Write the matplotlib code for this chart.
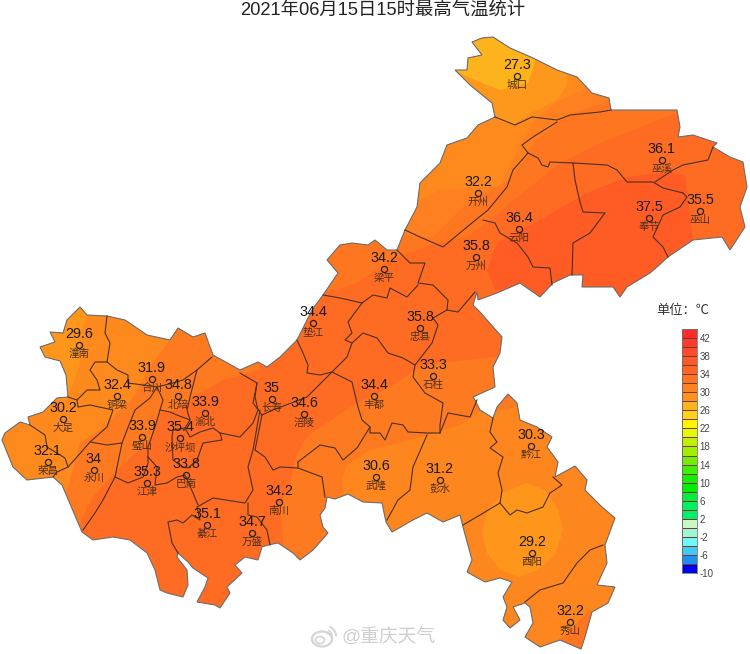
# -*- coding: utf-8 -*-
import matplotlib
matplotlib.use('Agg')
import matplotlib.pyplot as plt
from matplotlib.patches import Polygon, Ellipse, Arc
from matplotlib.colors import ListedColormap, BoundaryNorm
import numpy as np

plt.rcParams['font.family'] = ['Liberation Sans', 'Noto Sans CJK SC']
plt.rcParams['axes.unicode_minus'] = False

# stations: name, max temperature, map position (image grid)
names = ['城口','巫溪','开州','巫山','奉节','云阳','万州','梁平','垫江','忠县','石柱','丰都',
         '长寿','涪陵','南川','武隆','彭水','黔江','酉阳','秀山','潼南','合川','铜梁','北碚',
         '渝北','大足','璧山','沙坪坝','荣昌','永川','江津','巴南','綦江','万盛']
temps = ['27.3','36.1','32.2','35.5','37.5','36.4','35.8','34.2','34.4','35.8','33.3','34.4',
         '35','34.6','34.2','30.6','31.2','30.3','29.2','32.2','29.6','31.9','32.4','34.8',
         '33.9','30.2','33.9','35.4','32.1','34','35.3','33.8','35.1','34.7']
st_x = [517,662,478,700,649,519,476,384,313,420,433,374,272,304,279,376,440,531,532,570,
        79,152,117,178,205,63,142,180,48,94,147,186,207,252]
st_y = [76,160,193,211,218,229,257,269,323,328,376,396,399,414,502,477,480,446,553,622,
        345,379,396,396,413,419,437,438,462,470,483,475,525,533]

# colour scale
cb_levels = list(range(-10, 46, 2))
cb_ticks = list(range(-10, 46, 4))
cb_colors = ['#0000F0','#1E90F0','#40C8F8','#70F8F8','#98F8D8','#C8F8C8','#00F070','#00F060',
             '#00F040','#00F000','#10F000','#40F000','#70F000','#A0F000','#C0F000','#E4FA00',
             '#FEF400','#FED21A','#FEB41C','#FE921C','#FE821E','#FE7420','#FE6624','#FE5A28',
             '#FE4A2A','#FE3A2E','#FE2B2B']

# municipality outline
outline = [(472,42),(482,38),(493,37),(510,48),(533,58),(557,70),(577,77),(592,93),(609,98),(611,110),
    (677,110),(680,127),(678,137),(693,135),(717,143),(713,147),(730,157),(743,162),(747,187),(740,207),
    (745,227),(730,250),(722,237),(693,240),(668,257),(657,267),(650,273),(627,287),(620,297),(613,287),
    (582,287),(583,275),(570,275),(553,283),(540,297),(520,283),(497,293),(478,300),(477,292),(473,305),
    (480,312),(502,337),(500,353),(493,367),(495,387),(473,397),(475,400),(480,410),(493,418),(497,407),
    (508,394),(517,403),(520,420),(537,427),(552,437),(547,447),(558,462),(555,477),(575,466),(587,480),
    (585,490),(602,507),(615,518),(605,545),(607,563),(597,585),(615,587),(608,603),(592,612),(585,637),
    (581,649),(560,640),(540,647),(525,637),(533,623),(530,607),(525,603),(513,607),(520,620),(510,628),
    (503,620),(507,607),(503,597),(512,582),(500,578),(485,582),(467,572),(472,560),(463,527),(460,515),
    (443,522),(427,513),(413,520),(392,532),(386,522),(382,503),(363,502),(348,494),(335,499),(327,497),
    (325,508),(320,515),(323,527),(328,533),(313,550),(300,560),(293,553),(278,543),(268,545),(262,547),
    (258,560),(245,557),(235,565),(242,573),(227,587),(230,593),(220,608),(215,605),(197,602),(205,587),
    (208,578),(193,568),(188,562),(178,553),(177,557),(187,570),(188,585),(183,597),(167,593),(160,590),
    (155,570),(147,553),(130,540),(113,537),(93,540),(82,532),(62,485),(53,477),(27,480),(13,467),
    (2,440),(5,433),(20,422),(30,425),(28,417),(43,412),(57,398),(68,397),(66,375),(60,361),(45,357),(40,347),
    (55,342),(50,332),(63,333),(67,320),(80,307),(87,315),(107,316),(125,320),(147,335),(170,340),(178,328),
    (193,337),(205,333),(213,355),(240,370),(258,362),(267,367),(280,357),(297,340),(312,310),(323,295),
    (338,273),(327,260),(340,245),(352,243),(368,245),(375,240),(387,250),(397,250),(405,230),(417,207),
    (420,183),(440,163),(447,145),(467,138),(478,125),(495,117),(492,103),(470,85),(455,70),(467,70),
    (468,58),(482,55)]

# county borders
borders = [
    [(495,117),(515,125),(532,117),(557,120),(570,115),(600,112),(611,110)],
    [(557,122),(533,137),(522,145),(528,153),(538,158),(542,165),(548,167),(550,162),(573,163),(607,165),
     (617,170),(627,182),(653,182),(663,188),(683,193)],
    [(655,182),(673,170),(683,165),(708,160),(713,147)],
    [(683,193),(687,197),(680,207),(663,215),(653,237),(663,247),(668,257)],
    [(528,153),(513,170),(507,187),(488,210),(467,227),(443,247),(420,237),(405,230)],
    [(483,220),(495,223),(500,233),(517,243),(528,257),(533,267),(550,268),(552,285)],
    [(573,163),(575,180),(580,202),(583,212),(605,213),(590,233),(573,243),(572,275)],
    [(397,250),(410,263),(425,263),(418,283),(433,285),(448,300),(447,310),(458,312),(475,292)],
    [(418,285),(407,297),(390,288),(387,298),(373,295),(362,303),(340,298),(323,295)],
    [(362,303),(348,322),(352,333),(345,340),(352,343),(363,333),(377,338),(388,353),(403,358),(415,365),
     (432,343),(438,325),(433,318),(447,310)],
    [(352,343),(347,357),(332,372),(320,375),(307,373),(308,365),(303,353),(297,340)],
    [(332,372),(352,382),(358,407),(362,420),(370,427),(357,448),(343,460),(335,448),(320,445),(298,462)],
    [(370,427),(370,433),(380,433),(385,440),(392,423),(403,425),(408,432),(427,433),(440,433),(448,413),
     (470,417),(477,400)],
    [(415,365),(413,377),(425,393),(443,403),(440,425),(440,433)],
    [(427,435),(413,467),(410,490),(398,500),(387,520)],
    [(493,418),(490,432),(497,442),(490,448),(503,457),(498,473),(502,490),(500,503),(480,515),(463,525)],
    [(500,503),(510,515),(517,510),(527,513),(543,507),(550,493),(562,485),(553,477)],
    [(603,545),(590,550),(577,563),(563,583),(540,590),(525,602)],
    [(298,462),(298,468),(322,477),(325,497)],
    [(298,468),(280,467),(273,470),(265,457),(255,450),(262,415),(273,410),(307,397),(332,372)],
    [(240,373),(257,383),(253,403),(262,415)],
    [(260,410),(253,450),(248,467),(253,490),(245,503),(213,498),(197,507),(200,520),(192,515),(183,523),
     (177,520),(168,522),(172,543),(178,553)],
    [(248,503),(248,515),(257,517),(267,530),(270,545)],
    [(107,316),(105,333),(110,343),(107,362),(95,362),(90,370),(97,380),(100,390),(87,390),(77,400),(78,407),
     (90,405),(113,410),(107,427),(90,442),(77,457),(68,467),(57,472),(53,477)],
    [(68,397),(77,400)],
    [(107,362),(117,370),(128,375),(128,383),(143,385),(157,387),(173,383),(183,380),(197,370),(212,357)],
    [(157,387),(150,398),(135,410),(127,430),(122,443),(115,477),(103,500),(95,513),(83,530)],
    [(90,442),(107,445),(122,443)],
    [(30,425),(45,435),(47,447),(65,458),(68,467)],
    [(115,477),(128,483),(143,477),(148,463),(148,447),(155,427),(160,410),(163,400),(157,387)],
    [(148,457),(157,467),(155,485),(167,483),(177,477),(185,475),(193,493),(198,505)],
    [(160,410),(170,412),(177,415),(190,420),(185,428),(173,430),(172,437),(173,460),(183,467),(188,468),
     (197,460),(203,443),(222,440),(220,433)],
    [(197,370),(190,397),(187,410),(190,420)],
    [(185,428),(190,437),(200,432),(213,428),(220,433),(240,437),(253,423),(258,410),(255,397),(257,383)],
]

# temperature bands drawn lightest on top, clipped to the outline
band_base = '#FE6B22'
band_core = [(685,175),(693,240),(668,262),(640,305),(560,300),(495,290),(487,270),(497,243),(540,220),
             (587,193),(627,177),(667,172)]
band_ne34 = [(677,113),(607,140),(560,163),(530,187),(493,217),(467,237),(430,245),(387,262),(357,283),
             (328,292),(300,300),(300,200),(400,20),(677,20)]
band_ne32 = [(612,100),(567,115),(533,143),(510,180),(467,203),(433,237),(405,236),(390,150),(470,20),(612,20)]
band_ne30 = [(592,85),(557,102),(533,122),(520,145),(500,186),(440,190),(420,200),(400,240),(380,150),(470,20),(592,20)]
band_ne28 = [(567,85),(557,100),(533,112),(513,125),(495,119),(470,105),(440,60),(470,20),(570,20)]
band_ne26 = [(535,63),(528,83),(500,90),(463,75),(440,60),(470,20),(535,20)]
band_w34 = [(0,300),(260,300),(260,370),(223,380),(193,397),(177,410),(160,413),(150,440),(120,467),(93,497),
            (80,523),(60,560),(0,560)]
band_w32 = [(0,300),(177,300),(177,330),(150,367),(133,397),(100,430),(80,443),(67,490),(40,520),(0,520)]
band_w30 = [(0,300),(95,300),(80,333),(80,363),(67,400),(0,400)]
band_s34 = [(297,453),(307,437),(350,407),(390,387),(423,365),(510,355),(510,380),(640,500),(640,654),(280,620),
            (283,540),(280,505),(290,485)]
band_s32 = [(345,505),(342,480),(347,465),(370,450),(400,443),(427,435),(460,425),(480,410),(495,412),(520,405),
            (640,440),(640,654),(340,654)]
band_s36 = [(552,647),(575,625),(590,610),(610,640),(570,660)]
band_yy = [(527,483),(545,490),(558,510),(563,530),(555,555),(538,570),(520,577),(500,570),(487,553),(482,533),
           (488,510),(505,492)]

fig = plt.figure(figsize=(7.5, 6.54), dpi=100)
ax = fig.add_axes([0, 0, 1, 1])
ax.set_xlim(0, 750)
ax.set_ylim(654, 0)
ax.axis('off')

land = Polygon(outline, closed=True, fc=band_base, ec='none', zorder=1)
ax.add_patch(land)
layers = [(band_core, '#FE5C24'), (band_ne34, '#FE7620'), (band_ne32, '#FE8020'), (band_ne30, '#FE8A1E'),
          (band_ne28, '#FE981C'), (band_ne26, '#FDB31C'), (band_w34, '#FE7A20'), (band_w32, '#FE8A1E'),
          (band_w30, '#FE961C'), (band_s34, '#FE7A20'), (band_s32, '#FE861E'), (band_s36, '#FE7420'),
          (band_yy, '#FE961C')]
for i, (pts, col) in enumerate(layers):
    p = Polygon(pts, closed=True, fc=col, ec='none', zorder=2 + i * 0.01)
    ax.add_patch(p)
    p.set_clip_path(land)

ax.add_patch(Polygon(outline, closed=True, fc='none', ec='#6e6e6e', lw=0.8, zorder=3))
for b in borders:
    xs, ys = zip(*b)
    ax.plot(xs, ys, color='#4a3020', lw=0.8, zorder=4, solid_joinstyle='round')

# stations
ax.plot(st_x, st_y, 'o', ms=4.4, mfc='none', mec='#222222', mew=0.9, zorder=5)
for n, t, x, y in zip(names, temps, st_x, st_y):
    ax.text(x, y - 4, t, ha='center', va='bottom', fontsize=10.4, color='#1a1a1a', zorder=6)
    ax.text(x, y + 4, n, ha='center', va='top', fontsize=7.6, color='#4a3020', zorder=6)

ax.text(383, 11, '2021年06月15日15时最高气温统计', ha='center', va='center', fontsize=13.2, color='#222222')

# colour bar
ax.text(683, 311, '单位：℃', ha='center', va='center', fontsize=9.5, color='#333333')
cax = fig.add_axes([682 / 750, (654 - 573) / 654, 15 / 750, 244 / 654])
cmap = ListedColormap(cb_colors)
norm = BoundaryNorm(cb_levels, cmap.N)
cax.pcolormesh([0, 1], cb_levels, np.array(cb_levels[:-1]).reshape(-1, 1) + 1, cmap=cmap, norm=norm,
               edgecolors='#7a3a20', linewidth=0.5)
cax.set_xticks([])
cax.yaxis.tick_right()
cax.set_yticks(cb_ticks)
cax.set_ylim(cb_levels[0], cb_levels[-1])
cax.tick_params(axis='y', length=0, pad=2, labelsize=7, labelcolor='#444444')
for s in cax.spines.values():
    s.set_edgecolor('#777777')
    s.set_linewidth(0.6)

# watermark
ax.add_patch(Ellipse((322, 639), 20, 15, fc='none', ec='#d4d4d4', lw=1.6, zorder=7))
ax.add_patch(Ellipse((320, 640), 9, 7, fc='none', ec='#d4d4d4', lw=1.2, zorder=7))
ax.add_patch(Arc((326, 636), 20, 20, theta1=-70, theta2=0, ec='#d4d4d4', lw=1.4, zorder=7))
ax.add_patch(Arc((326, 636), 12, 12, theta1=-70, theta2=0, ec='#d4d4d4', lw=1.2, zorder=7))
ax.text(389, 637, '@重庆天气', ha='center', va='center', fontsize=13.5, color='#cfcfcf', zorder=7)

fig.savefig('out.png', dpi=100)
